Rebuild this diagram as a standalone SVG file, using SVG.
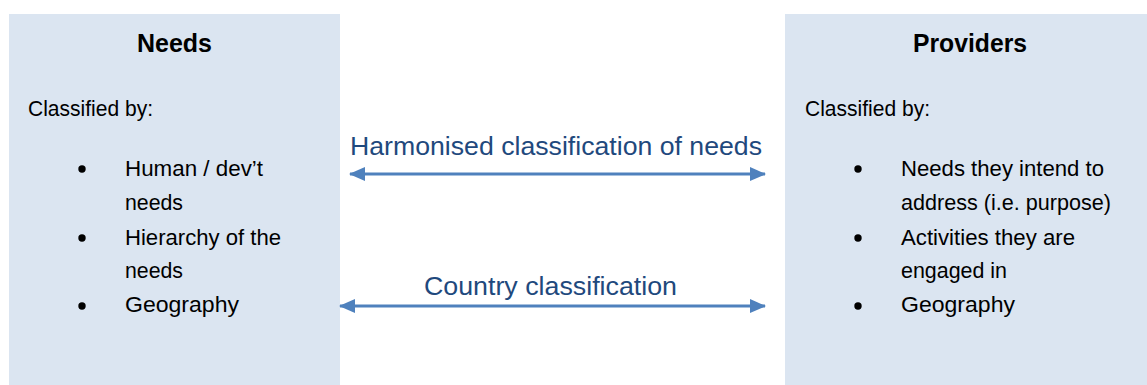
<svg xmlns="http://www.w3.org/2000/svg" width="1147" height="385" viewBox="0 0 1147 385">
  <style>
    .box { fill: #DBE5F1; }
    .body { font-family: "Liberation Sans", Arial, sans-serif; font-size: 22px; fill: #000; }
    .head { font-family: "Liberation Sans", Arial, sans-serif; font-size: 25px; font-weight: bold; fill: #000; }
    .lbl { font-family: "Liberation Sans", Arial, sans-serif; font-size: 26px; fill: #1F497D; }
    .bul { fill: #000; }
    .conn { stroke: #4F81BD; stroke-width: 3; fill: none; }
  </style>
  <defs>
    <marker id="ah" viewBox="0 0 16 14" refX="15" refY="7" markerWidth="16" markerHeight="14" markerUnits="userSpaceOnUse" orient="auto-start-reverse">
      <path d="M0,0 L16,7 L0,14 Z" fill="#4F81BD"/>
    </marker>
  </defs>
  <rect width="1147" height="385" fill="#fff"/>

  <g id="needs">
    <rect class="box" x="9" y="14" width="331" height="371"/>
    <text class="head" x="137" y="52" textLength="75" lengthAdjust="spacingAndGlyphs">Needs</text>
    <text class="body" x="28" y="116" textLength="125" lengthAdjust="spacingAndGlyphs">Classified by:</text>
    <circle class="bul" cx="82" cy="169" r="3.7"/>
    <text class="body" x="125" y="176" textLength="138" lengthAdjust="spacingAndGlyphs">Human / dev’t</text>
    <text class="body" x="125" y="210" textLength="58" lengthAdjust="spacingAndGlyphs">needs</text>
    <circle class="bul" cx="82" cy="238" r="3.7"/>
    <text class="body" x="125" y="245" textLength="156" lengthAdjust="spacingAndGlyphs">Hierarchy of the</text>
    <text class="body" x="125" y="278" textLength="58" lengthAdjust="spacingAndGlyphs">needs</text>
    <circle class="bul" cx="82" cy="306" r="3.7"/>
    <text class="body" x="125" y="312" textLength="114" lengthAdjust="spacingAndGlyphs">Geography</text>
  </g>

  <g id="providers">
    <rect class="box" x="785" y="14" width="362" height="371"/>
    <text class="head" x="913" y="52" textLength="114" lengthAdjust="spacingAndGlyphs">Providers</text>
    <text class="body" x="805" y="116" textLength="125" lengthAdjust="spacingAndGlyphs">Classified by:</text>
    <circle class="bul" cx="858" cy="169" r="3.7"/>
    <text class="body" x="901" y="176" textLength="203" lengthAdjust="spacingAndGlyphs">Needs they intend to</text>
    <text class="body" x="901" y="210" textLength="210" lengthAdjust="spacingAndGlyphs">address (i.e. purpose)</text>
    <circle class="bul" cx="858" cy="238" r="3.7"/>
    <text class="body" x="901" y="245" textLength="174" lengthAdjust="spacingAndGlyphs">Activities they are</text>
    <text class="body" x="901" y="278" textLength="106" lengthAdjust="spacingAndGlyphs">engaged in</text>
    <circle class="bul" cx="858" cy="306" r="3.7"/>
    <text class="body" x="901" y="312" textLength="114" lengthAdjust="spacingAndGlyphs">Geography</text>
  </g>

  <g id="connectors">
    <line class="conn" x1="350" y1="174" x2="765" y2="174" marker-start="url(#ah)" marker-end="url(#ah)"/>
    <text class="lbl" x="350" y="155" textLength="412" lengthAdjust="spacingAndGlyphs">Harmonised classification of needs</text>
    <line class="conn" x1="340" y1="306" x2="765" y2="306" marker-start="url(#ah)" marker-end="url(#ah)"/>
    <text class="lbl" x="424" y="295" textLength="253" lengthAdjust="spacingAndGlyphs">Country classification</text>
  </g>
</svg>
